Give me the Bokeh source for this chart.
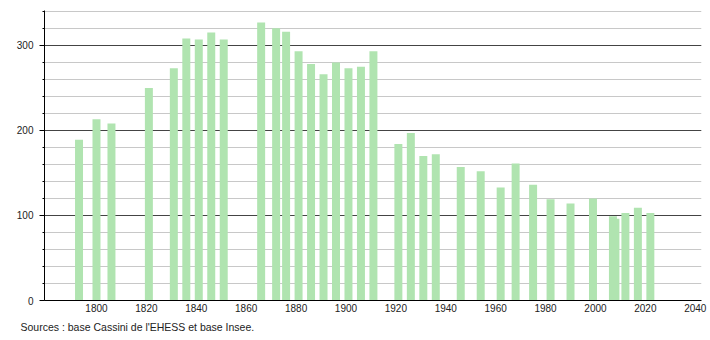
from bokeh.plotting import figure
from bokeh.models import Range1d, SingleIntervalTicker, FixedTicker, Title
from bokeh.embed import file_html
from bokeh.resources import INLINE

years = [1793, 1800, 1806, 1821, 1831, 1836, 1841, 1846, 1851, 1866, 1872, 1876,
         1881, 1886, 1891, 1896, 1901, 1906, 1911, 1921, 1926, 1931, 1936, 1946,
         1954, 1962, 1968, 1975, 1982, 1990, 1999, 2007, 2008, 2012, 2017, 2022]
population = [189, 213, 208, 250, 273, 308, 307, 315, 307, 327, 320, 316,
              293, 278, 266, 280, 273, 275, 293, 184, 197, 170, 172, 157,
              152, 133, 161, 136, 119, 114, 120, 99, 96, 103, 109, 103]
x_ticks = [1800, 1820, 1840, 1860, 1880, 1900, 1920, 1940, 1960, 1980, 2000, 2020, 2040]
source_text = "Sources : base Cassini de l'EHESS et base Insee."

FONT = "Liberation Sans"

p = figure(width=710, height=340, output_backend="svg", toolbar_location=None,
           x_range=Range1d(1779.16, 2042.5), y_range=Range1d(0, 341),
           min_border_left=44, min_border_right=9, min_border_top=10, min_border_bottom=40)
p.outline_line_color = None
p.background_fill_color = "white"
p.border_fill_color = "white"

p.vbar(x=years, top=population, width=3.2, bottom=0,
       fill_color="#b0e4b0", line_color=None)

# y axis
p.yaxis.ticker = SingleIntervalTicker(interval=100, num_minor_ticks=5)
p.yaxis.axis_line_color = "black"
p.yaxis.major_tick_line_color = "black"
p.yaxis.minor_tick_line_color = "black"
p.yaxis.major_tick_out = 5
p.yaxis.major_tick_in = 0
p.yaxis.minor_tick_out = 2
p.yaxis.minor_tick_in = 0
p.yaxis.major_label_standoff = 6
p.yaxis.major_label_text_font = FONT
p.yaxis.major_label_text_font_size = "10px"
p.yaxis.major_label_text_color = "#222222"

# x axis
p.xaxis.ticker = FixedTicker(ticks=x_ticks)
p.xaxis.axis_line_color = "black"
p.xaxis.major_tick_line_color = None
p.xaxis.minor_tick_line_color = None
p.xaxis.major_tick_out = 0
p.xaxis.major_tick_in = 0
p.xaxis.minor_tick_out = 0
p.xaxis.minor_tick_in = 0
p.xaxis.major_label_standoff = 3
p.xaxis.major_label_text_font = FONT
p.xaxis.major_label_text_font_size = "10px"
p.xaxis.major_label_text_color = "#222222"

# grids
p.xgrid.grid_line_color = None
p.ygrid.grid_line_color = "#444444"
p.ygrid.grid_line_width = 1
p.ygrid.minor_grid_line_color = "#c8c8c8"
p.ygrid.minor_grid_line_width = 1

src = Title(text=source_text, align="left", offset=-24, standoff=8,
            text_font=FONT, text_font_size="10.5px", text_font_style="normal",
            text_color="#222222")
p.add_layout(src, "below")

open("out.html", "w").write(file_html(p, INLINE))
